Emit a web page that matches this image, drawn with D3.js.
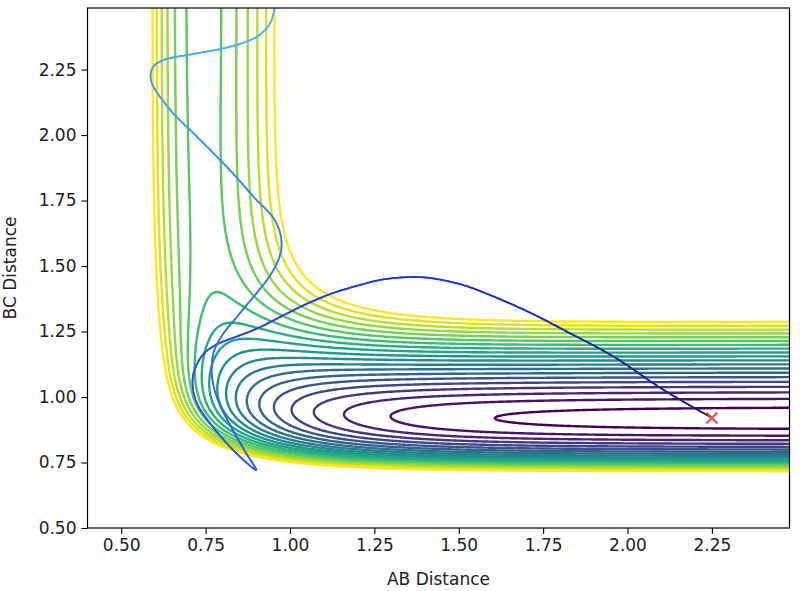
<!DOCTYPE html>
<html><head><meta charset="utf-8">
<script src="https://cdn.jsdelivr.net/npm/d3@7"></script>
<style>body{margin:0;background:#fff} text{font-family:"DejaVu Sans",sans-serif}</style>
</head><body><svg id="c" width="800" height="591"></svg>
<script>
// ---- data ----
const xTicks = [0.5, 0.75, 1.0, 1.25, 1.5, 1.75, 2.0, 2.25];
const yTicks = [0.5, 0.75, 1.0, 1.25, 1.5, 1.75, 2.0, 2.25];
const xDomain = [0.4, 2.48];
const yDomain = [0.5, 2.485];
// LEPS (Morse + Sato) parameters for the pairs AB, BC, AC (kJ/mol, Angstrom)
const morseD = [458.2, 591.1, 591.1];
const morseRe = [0.742, 0.917, 0.917];
const morseBeta = [1.942, 2.219, 2.219];
const satoK = [0.167, 0.167, 0.25];
// contour levels (kJ/mol)
const contourLevels = [-585.9, -576.42, -566.94, -557.46, -547.98, -538.5, -529.02, -519.54, -510.06, -500.58,
  -491.1, -481.62, -472.14, -462.66, -453.18, -443.7, -434.22, -424.74, -415.26, -405.78];
// trajectory
const trajAB = [2.251,2.107,1.959,1.811,1.713,1.614,1.514,1.416,1.356,1.268,1.200,1.128,1.050,0.970,0.900,0.840,0.790,0.755,0.734,0.714,0.712,0.724,0.763,0.813,0.862,0.900,
  0.868,0.825,0.790,0.772,0.768,0.776,0.803,0.843,0.892,0.932,0.961,0.974,0.972,0.955,0.930,0.901,0.822,0.724,0.654,0.615,0.591,0.587,0.595,0.625,0.724,0.822,0.901,0.941,0.953,0.959];
const trajBC = [0.920,1.027,1.154,1.256,1.321,1.378,1.427,1.454,1.458,1.447,1.425,1.397,1.356,1.305,1.260,1.230,1.205,1.178,1.148,1.090,1.039,0.976,0.900,0.823,0.760,0.721,
  0.790,0.887,0.976,1.052,1.116,1.179,1.243,1.306,1.383,1.447,1.510,1.561,1.620,1.675,1.715,1.752,1.866,1.994,2.083,2.146,2.197,2.229,2.261,2.286,2.312,2.337,2.375,2.426,2.477,2.515];
const startPoint = [2.25, 0.92];
const trajColors = ["#1c1c80", "#2230d0", "#2540f5", "#2f6cf0", "#3d90e8", "#55b8f2"];

// ---- layout ----
const svg = d3.select("#c");
const L = 87.5, R = 789.5, T = 8, B = 528;
const x = d3.scaleLinear().domain(xDomain).range([L, R]);
const y = d3.scaleLinear().domain(yDomain).range([B, T]);

svg.append("defs").append("clipPath").attr("id", "clip")
  .append("rect").attr("x", L).attr("y", T).attr("width", R - L).attr("height", B - T);

// ---- potential ----
function leps(rab, rbc) {
  const r = [rab, rbc, rab + rbc];
  let Q = 0; const J = [];
  for (let i = 0; i < 3; i++) {
    const k = satoK[i];
    const e = Math.exp(-morseBeta[i] * (r[i] - morseRe[i]));
    const c = morseD[i] / (4 * (1 + k));
    Q += c * ((3 + k) * e * e - (2 + 6 * k) * e);
    J.push(c * ((1 + 3 * k) * e * e - (6 + 2 * k) * e));
  }
  return Q - Math.sqrt(J[0]*J[0] + J[1]*J[1] + J[2]*J[2] - J[0]*J[1] - J[1]*J[2] - J[0]*J[2]);
}
const h = 0.005, gx0 = 0.36, gy0 = 0.46;
const nx = Math.round((2.53 - gx0) / h), ny = Math.round((2.53 - gy0) / h);
const values = new Float64Array(nx * ny);
for (let j = 0; j < ny; j++) for (let i = 0; i < nx; i++)
  values[i + j * nx] = leps(gx0 + i * h, gy0 + j * h);

const norm = d3.scaleLinear().domain(d3.extent(contourLevels)).range([0, 1]);
const contours = d3.contours().size([nx, ny]).thresholds(contourLevels)(values);
const proj = d3.geoTransform({ point: function(px, py) {
  this.stream.point(x(gx0 + (px - 0.5) * h), y(gy0 + (py - 0.5) * h)); } });
const gpath = d3.geoPath(proj);
svg.append("g").attr("clip-path", "url(#clip)")
  .selectAll("path").data(contours).join("path")
  .attr("d", gpath).attr("fill", "none")
  .attr("stroke", d => d3.interpolateViridis(norm(d.value)))
  .attr("stroke-width", 2.4).attr("stroke-linejoin", "round");

// ---- trajectory ----
const tg = svg.append("g").attr("clip-path", "url(#clip)");
const line = d3.line().x(d => x(d[0])).y(d => y(d[1])).curve(d3.curveCatmullRom.alpha(0.5));
const pts = trajAB.map((a, i) => [a, trajBC[i]]);
const tmp = tg.append("path").attr("d", line(pts)).attr("fill", "none");
const len = tmp.node().getTotalLength();
const N = 700;
const samp = d3.range(N + 1).map(i => tmp.node().getPointAtLength(len * i / N));
tmp.remove();
const cInt = d3.interpolateRgbBasis(trajColors);
for (let i = 0; i < N; i++) {
  tg.append("line").attr("x1", samp[i].x).attr("y1", samp[i].y)
    .attr("x2", samp[i+1].x).attr("y2", samp[i+1].y)
    .attr("stroke", cInt(i / N)).attr("stroke-width", 1.8).attr("stroke-linecap", "round");
}
// start marker
const sx = x(startPoint[0]), sy = y(startPoint[1]), s = 5.5;
svg.append("path").attr("d", `M${sx-s},${sy-s}L${sx+s},${sy+s}M${sx-s},${sy+s}L${sx+s},${sy-s}`)
  .attr("stroke", "#ee4a44").attr("stroke-width", 2).attr("fill", "none");

// ---- axes ----
const xa = svg.append("g").attr("transform", `translate(0,${B})`)
  .call(d3.axisBottom(x).tickValues(xTicks).tickFormat(d3.format(".2f")).tickSize(6).tickPadding(5).tickSizeOuter(0));
const ya = svg.append("g").attr("transform", `translate(${L},0)`)
  .call(d3.axisLeft(y).tickValues(yTicks).tickFormat(d3.format(".2f")).tickSize(6).tickPadding(5).tickSizeOuter(0));
[xa, ya].forEach(a => {
  a.select(".domain").remove();
  a.selectAll("line").attr("stroke", "#000").attr("stroke-width", 1.1);
  a.selectAll("text").attr("font-size", 17).attr("fill", "#222").attr("font-family", "DejaVu Sans");
});
svg.append("rect").attr("x", L).attr("y", T).attr("width", R - L).attr("height", B - T)
  .attr("fill", "none").attr("stroke", "#000").attr("stroke-width", 1.2);
svg.append("text").attr("x", (L + R) / 2).attr("y", 585).attr("text-anchor", "middle")
  .attr("font-size", 17).attr("fill", "#222").text("AB Distance");
svg.append("text").attr("transform", `translate(16,${(T + B) / 2}) rotate(-90)`).attr("text-anchor", "middle")
  .attr("font-size", 17).attr("fill", "#222").text("BC Distance");
</script></body></html>
